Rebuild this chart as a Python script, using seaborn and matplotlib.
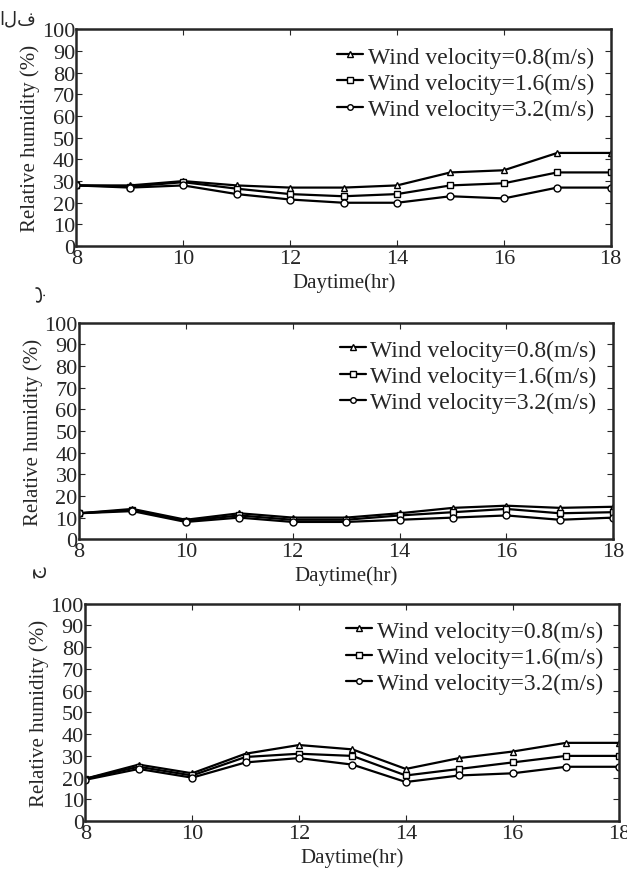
import pandas as pd
import matplotlib
matplotlib.use('Agg')
import matplotlib.pyplot as plt
import seaborn as sns

sns.set_style('ticks')
plt.rcParams['font.family'] = ['Liberation Serif', 'DejaVu Sans']
plt.rcParams['font.size'] = 14

# hours of the day
hours = [8, 9, 10, 11, 12, 13, 14, 15, 16, 17, 18]

# panel a (الف)
rh_a_08 = [28, 28, 30, 28, 27, 27, 28, 34, 35, 43, 43]
rh_a_16 = [28, 27.5, 29.5, 26.5, 24, 23, 24, 28, 29, 34, 34]
rh_a_32 = [28, 27, 28, 24, 21.5, 20, 20, 23, 22, 27, 27]

# panel b (ب)
rh_b_08 = [12, 14, 9, 12, 10, 10, 12, 14.5, 15.5, 14.5, 15]
rh_b_16 = [12, 13.5, 8.5, 11, 9, 9, 11, 12.5, 14, 12, 12.5]
rh_b_32 = [12, 13, 8, 10, 8, 8, 9, 10, 11, 9, 10]

# panel c (ج)
rh_c_08 = [19.5, 26, 22, 31, 35, 33, 24, 29, 32, 36, 36]
rh_c_16 = [19.5, 25, 21, 29.5, 31, 30, 21, 24, 27, 30, 30]
rh_c_32 = [19, 24, 20, 27, 29, 26, 18, 21, 22, 25, 25]

series_labels = ['Wind velocity=0.8(m/s)', 'Wind velocity=1.6(m/s)', 'Wind velocity=3.2(m/s)']
markers = ['^', 's', 'o']
panel_tags = ['الف', 'ب', 'ج']

panels = [[rh_a_08, rh_a_16, rh_a_32],
          [rh_b_08, rh_b_16, rh_b_32],
          [rh_c_08, rh_c_16, rh_c_32]]

# axes boxes in figure fraction (left, bottom, width, height)
boxes = [[0.122, 0.716, 0.852, 0.249],
         [0.126, 0.379, 0.852, 0.249],
         [0.136, 0.055, 0.852, 0.250]]

fig = plt.figure(figsize=(6.27, 8.70), dpi=100)

for i, vals in enumerate(panels):
    ax = fig.add_axes(boxes[i])
    for j, s in enumerate(vals):
        sns.lineplot(x=hours, y=s, ax=ax, color='black', lw=1.6,
                     marker=markers[j], markersize=5, markerfacecolor='white',
                     markeredgecolor='black', markeredgewidth=1, label=series_labels[j])
    ax.set_xlim(8, 18); ax.set_ylim(0, 100)
    ax.set_xticks([8, 10, 12, 14, 16, 18])
    ax.set_yticks(range(0, 101, 10))
    ax.tick_params(direction='in', top=True, right=True, length=4, labelsize=16, pad=2)
    ax.tick_params(axis='y', pad=1)
    for sp in ax.spines.values():
        sp.set_linewidth(1.8)
    ax.set_xlabel('Daytime(hr)', fontsize=15, labelpad=3)
    ax.set_ylabel('Relative humidity (%)', fontsize=15, labelpad=1)
    ax.legend(loc='upper right', frameon=False, fontsize=17, handlelength=1.1,
              handletextpad=0.2, labelspacing=0.2, borderaxespad=0.3,
              markerscale=0.8)

# panel tags
fig.text(0.028, 0.978, panel_tags[0], fontsize=13, ha='center', va='center', family=['DejaVu Sans'])
fig.text(0.058, 0.663, panel_tags[1], fontsize=14, ha='center', va='center', rotation=90, family=['DejaVu Sans'])
fig.text(0.058, 0.343, panel_tags[2], fontsize=14, ha='center', va='center', rotation=90, family=['DejaVu Sans'])

fig.savefig('out.png', dpi=100)
